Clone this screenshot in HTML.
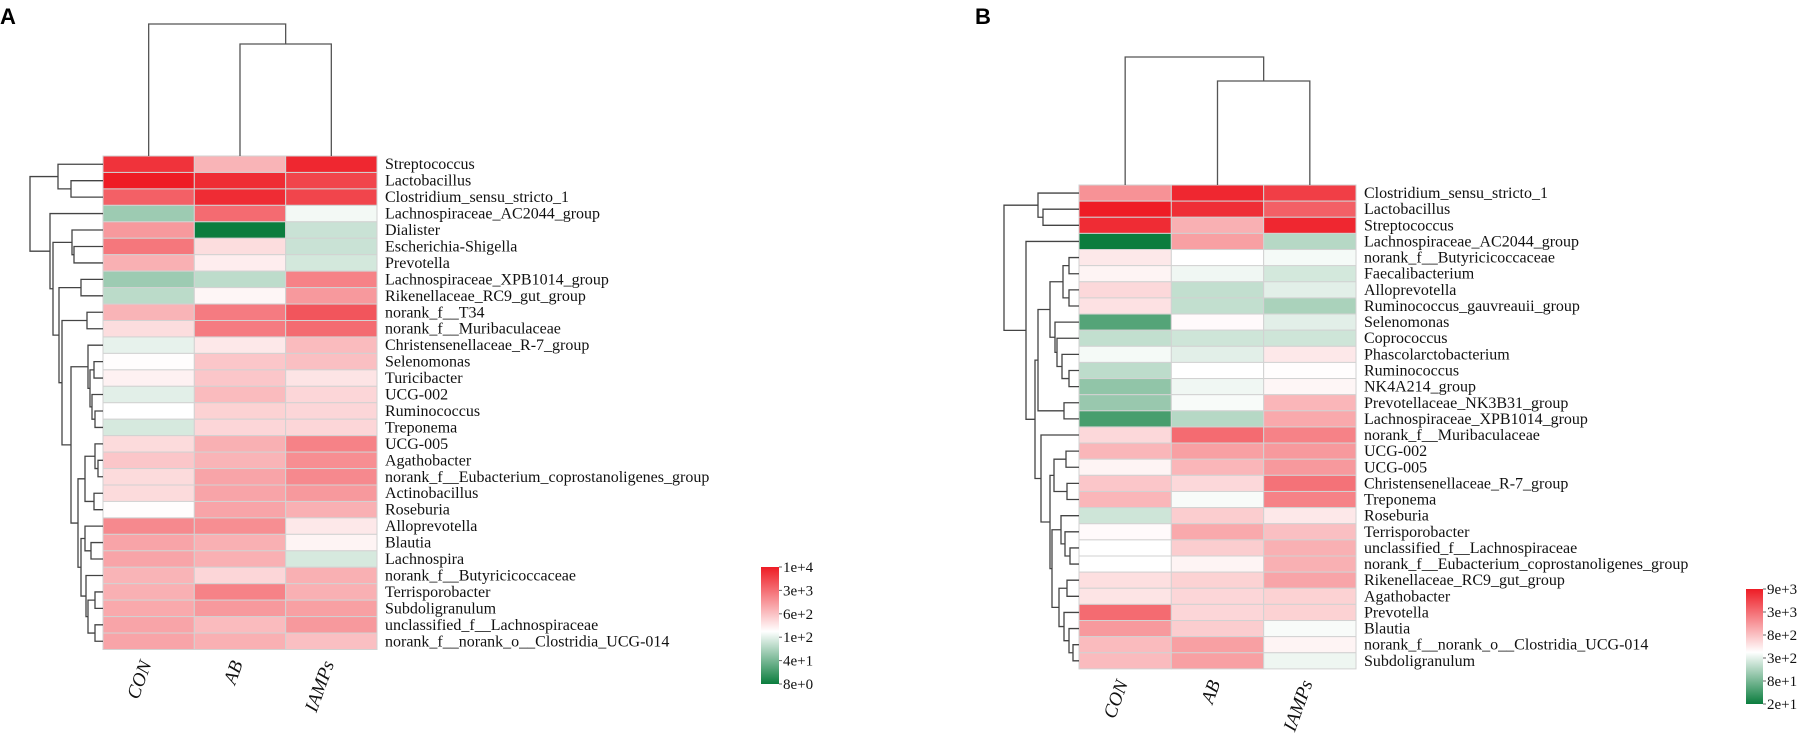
<!DOCTYPE html>
<html><head><meta charset="utf-8">
<style>
html,body{margin:0;padding:0;background:#fff;}
svg{display:block;}
text{font-family:"Liberation Serif",serif;}
</style></head>
<body>
<svg id="chart" width="1801" height="736" viewBox="0 0 1801 736" xmlns="http://www.w3.org/2000/svg">
<defs>
<linearGradient id="lg" x1="0" y1="0" x2="0" y2="1">
<stop offset="0" stop-color="#ee1c25"/><stop offset="0.55" stop-color="#ffffff"/><stop offset="1" stop-color="#0b7d3e"/>
</linearGradient>
</defs>
<text x="0" y="24" font-family="Liberation Sans, sans-serif" font-weight="bold" font-size="22" style="font-family:'Liberation Sans',sans-serif">A</text>
<text x="975" y="24" font-weight="bold" font-size="22" style="font-family:'Liberation Sans',sans-serif">B</text>
</svg>
<script>
const groups = ["CON","AB","IAMPs"];
const rowsA = ["Streptococcus","Lactobacillus","Clostridium_sensu_stricto_1","Lachnospiraceae_AC2044_group","Dialister","Escherichia-Shigella","Prevotella","Lachnospiraceae_XPB1014_group","Rikenellaceae_RC9_gut_group","norank_f__T34","norank_f__Muribaculaceae","Christensenellaceae_R-7_group","Selenomonas","Turicibacter","UCG-002","Ruminococcus","Treponema","UCG-005","Agathobacter","norank_f__Eubacterium_coprostanoligenes_group","Actinobacillus","Roseburia","Alloprevotella","Blautia","Lachnospira","norank_f__Butyricicoccaceae","Terrisporobacter","Subdoligranulum","unclassified_f__Lachnospiraceae","norank_f__norank_o__Clostridia_UCG-014"];
const conA = [0.9,1.0,0.7,-0.4,0.45,0.6,0.35,-0.4,-0.28,0.33,0.15,-0.1,0.01,0.06,-0.12,0.0,-0.17,0.16,0.25,0.16,0.16,0.01,0.52,0.4,0.4,0.33,0.35,0.38,0.4,0.4];
const abA = [0.33,0.93,0.93,0.65,-1,0.15,0.08,-0.27,0.04,0.58,0.58,0.1,0.25,0.25,0.3,0.2,0.18,0.35,0.33,0.4,0.4,0.4,0.5,0.35,0.35,0.18,0.55,0.45,0.3,0.35];
const iampsA = [0.95,0.82,0.82,-0.05,-0.22,-0.22,-0.18,0.55,0.45,0.75,0.65,0.3,0.28,0.12,0.18,0.18,0.18,0.55,0.5,0.52,0.45,0.35,0.1,0.05,-0.17,0.35,0.35,0.42,0.45,0.28];
const legendA = ["1e+4","3e+3","6e+2","1e+2","4e+1","8e+0"];
const treeA = [73,[45,0,[32,1,2]],[53,3,[50,[31,4,[29,5,6]],[44,[22,7,8],[41,[16,9,10],[32,[15,11,[13,[9,12,13],[11,14,[8,15,16]]]],[25,[18,[8,17,[5,18,19]],[9,20,21]],[22,[18,22,[12,23,24]],[17,25,[15,[8,26,27],[8,28,29]]]]]]]]]]];
const colTreeA = [132,0,[112,1,2]];

const rowsB = ["Clostridium_sensu_stricto_1","Lactobacillus","Streptococcus","Lachnospiraceae_AC2044_group","norank_f__Butyricicoccaceae","Faecalibacterium","Alloprevotella","Ruminococcus_gauvreauii_group","Selenomonas","Coprococcus","Phascolarctobacterium","Ruminococcus","NK4A214_group","Prevotellaceae_NK3B31_group","Lachnospiraceae_XPB1014_group","norank_f__Muribaculaceae","UCG-002","UCG-005","Christensenellaceae_R-7_group","Treponema","Roseburia","Terrisporobacter","unclassified_f__Lachnospiraceae","norank_f__Eubacterium_coprostanoligenes_group","Rikenellaceae_RC9_gut_group","Agathobacter","Prevotella","Blautia","norank_f__norank_o__Clostridia_UCG-014","Subdoligranulum"];
const conB = [0.48,1.0,0.93,-1,0.1,0.05,0.17,0.13,-0.7,-0.25,-0.04,-0.27,-0.45,-0.42,-0.75,0.17,0.32,0.05,0.25,0.32,-0.2,0.02,0.0,0.0,0.14,0.12,0.65,0.45,0.3,0.3];
const abB = [0.95,0.92,0.35,0.42,0.0,-0.06,-0.25,-0.25,0.02,-0.2,-0.12,0.0,-0.06,-0.03,-0.3,0.65,0.42,0.32,0.17,-0.03,0.22,0.38,0.22,0.05,0.2,0.18,0.18,0.22,0.42,0.42];
const iampsB = [0.85,0.7,0.95,-0.3,-0.04,-0.18,-0.12,-0.35,-0.12,-0.2,0.1,0.01,0.04,0.32,0.38,0.55,0.45,0.45,0.62,0.55,0.1,0.28,0.35,0.35,0.4,0.2,0.2,-0.03,0.05,-0.07];
const legendB = ["9e+3","3e+3","8e+2","3e+2","8e+1","2e+1"];
const treeB = [75,[41,0,[36,1,2]],[53,3,[44,[41,[29,[16,[10,4,5],[10,6,7]],[24,8,[22,9,[17,10,[10,11,12]]]]],[15,13,14]],[38,15,[29,[25,[13,16,17],[12,18,19]],[27,[18,20,[14,21,[9,22,23]]],[20,[12,24,25],[15,26,[10,27,[6,28,29]]]]]]]]]];
const colTreeB = [128,0,[104,1,2]];

const NS="http://www.w3.org/2000/svg";
const svg=document.getElementById('chart');
function mk(tag,attrs,parent){const e=document.createElementNS(NS,tag);for(const k in attrs)e.setAttribute(k,attrs[k]);(parent||svg).appendChild(e);return e;}
function color(s){
  s=Math.max(-1,Math.min(1,s));
  let r,g,b;
  if(s>=0){r=255+(238-255)*s;g=255+(28-255)*s;b=255+(37-255)*s;}
  else{const t=-s;r=255+(11-255)*t;g=255+(125-255)*t;b=255+(62-255)*t;}
  return `rgb(${Math.round(r)},${Math.round(g)},${Math.round(b)})`;
}

function panel(cfg){
  const {id,x0,y0,cw,rh,rows,cols,vals,tree,colTree,legend,lx,ly,lw,lh}=cfg;
  const g=mk('g',{});
  
  
  const rowY=i=>y0+rh*(i+0.5);
  const colX=j=>x0+cw*(j+0.5);
  // cells
  for(let j=0;j<cols.length;j++){
    for(let i=0;i<rows.length;i++){
      const c=mk('rect',{x:x0+cw*j,y:y0+rh*i,width:cw,height:rh,fill:color(vals[j][i]),stroke:'#d2d2d2','stroke-width':1},g);
      
      
    }
  }
  // row labels
  for(let i=0;i<rows.length;i++){
    const t=mk('text',{x:x0+cw*cols.length+8,y:rowY(i)+5,'font-size':16,fill:'#111'},g);
    t.textContent=rows[i];
    
    
  }
  // column labels
  const yb=y0+rh*rows.length;
  for(let j=0;j<cols.length;j++){
    const cx=colX(j)+3, cy=yb+14;
    const t=mk('text',{x:cx,y:cy,'font-size':19,'font-style':'italic','text-anchor':'end',fill:'#111',transform:`rotate(-70 ${cx} ${cy})`},g);
    t.textContent=cols[j];
    
    
  }
  // row dendrogram
  const dg=mk('g',{stroke:'#444','stroke-width':1.3,fill:'none'},g);
  
  
  function drawRow(n){
    if(typeof n==='number')return {y:rowY(n),x:x0};
    const a=drawRow(n[1]),b=drawRow(n[2]);const x=x0-n[0];
    mk('path',{d:`M${a.x},${a.y}H${x}V${b.y}H${b.x}`},dg);
    return {y:(a.y+b.y)/2,x:x};
  }
  drawRow(tree);
  // column dendrogram
  const cg=mk('g',{stroke:'#555','stroke-width':1.3,fill:'none'},g);
  
  
  function drawCol(n){
    if(typeof n==='number')return {x:colX(n),y:y0};
    const a=drawCol(n[1]),b=drawCol(n[2]);const y=y0-n[0];
    mk('path',{d:`M${a.x},${a.y}V${y}H${b.x}V${b.y}`},cg);
    return {x:(a.x+b.x)/2,y:y};
  }
  drawCol(colTree);
  // legend
  const lgG=mk('g',{},g);
  
  
  mk('rect',{x:lx,y:ly,width:lw,height:lh,fill:'url(#lg)'},lgG);
  for(let k=0;k<legend.length;k++){
    const yy=ly+lh*k/(legend.length-1);
    mk('line',{x1:lx+lw,x2:lx+lw+3,y1:yy,y2:yy,stroke:'#666'},lgG);
    const t=mk('text',{x:lx+lw+4,y:yy+5,'font-size':15,fill:'#111'},lgG);
    t.textContent=legend[k];
    
    
  }
}
panel({id:'panel-a',x0:103,y0:156,cw:91.33,rh:16.45,rows:rowsA,cols:groups,vals:[conA,abA,iampsA],tree:treeA,colTree:colTreeA,legend:legendA,lx:761,ly:567,lw:18,lh:117});
panel({id:'panel-b',x0:1079,y0:185,cw:92.33,rh:16.13,rows:rowsB,cols:groups,vals:[conB,abB,iampsB],tree:treeB,colTree:colTreeB,legend:legendB,lx:1746,ly:589,lw:17,lh:115});
</script>
</body></html>
